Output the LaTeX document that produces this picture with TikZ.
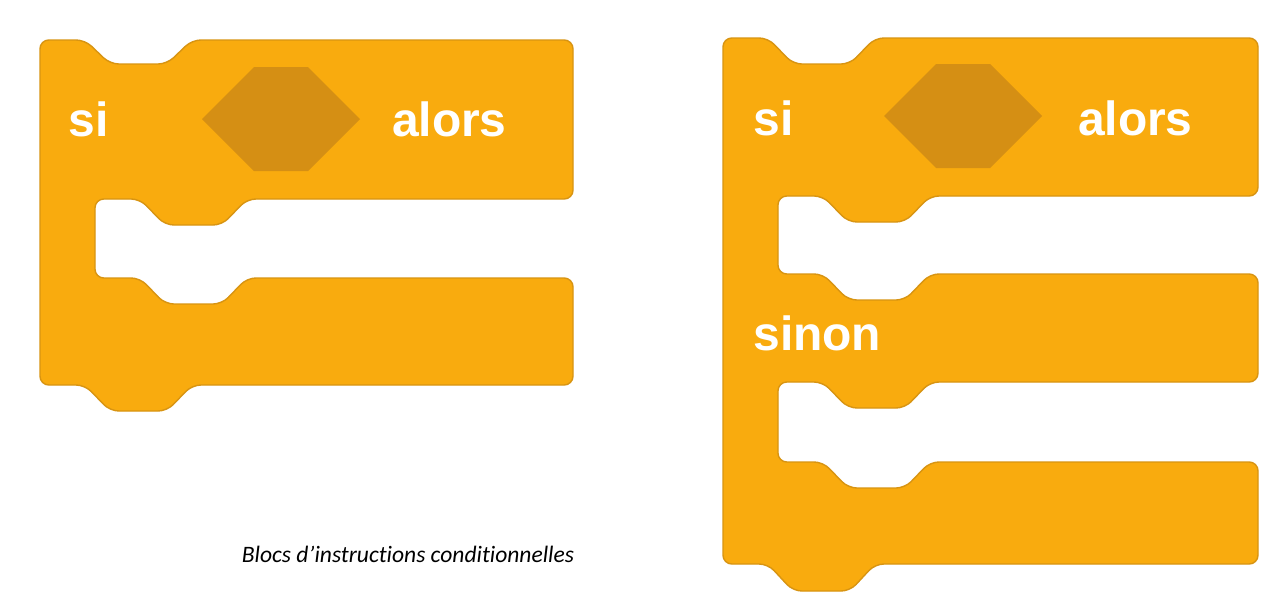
\documentclass[tikz,border=0pt]{standalone}
\usepackage{fontspec}
\setmainfont{Carlito}[Ligatures=NoCommon]
\newfontfamily\blocksans{Liberation Sans}
\definecolor{ctrl}{HTML}{F9AB0E}
\definecolor{ctrlline}{HTML}{D89412}
\definecolor{ctrlslot}{HTML}{D58F14}
\tikzset{
  block/.style={fill=ctrl, draw=ctrlline, line width=.8pt, rounded corners=5pt, line join=round},
  slot/.style={fill=ctrlslot},
  blocktext/.style={text=white, inner sep=0pt, font=\blocksans\bfseries\fontsize{27.3}{30}\selectfont},
  caption/.style={inner sep=0pt, font=\itshape\fontsize{13.4}{16}\selectfont}
}
\begin{document}
\begin{tikzpicture}[x=0.02cm, y=-0.02cm]
\fill[white] (0,0) rectangle (1279,599);
\useasboundingbox (0,0) rectangle (1279,599);
% si ... alors
\draw[block] (40,40) -- (85,40) -- (110,64) -- (167,64) -- (192,40) -- (573,40) -- (573,199)
  -- (247,199) -- (222,225) -- (165,225) -- (140,199) -- (95,199) -- (95,278)
  -- (140,278) -- (165,304) -- (222,304) -- (247,278) -- (573,278) -- (573,385)
  -- (192,385) -- (167,411) -- (110,411) -- (85,385) -- (40,385) -- cycle;
\fill[slot] (202,119) -- (254,67) -- (308,67) -- (360,119) -- (308,171) -- (254,171) -- cycle;
\node[blocktext, anchor=base west] (si) at (68,136) {si};
\node[blocktext, anchor=base east] (alors) at (507,136) {alors};
% si ... alors ... sinon
\draw[block] (723,38) -- (768,38) -- (793,64) -- (850,64) -- (875,38) -- (1258,38) -- (1258,196)
  -- (930,196) -- (905,222) -- (848,222) -- (823,196) -- (778,196) -- (778,274)
  -- (823,274) -- (848,300) -- (905,300) -- (930,274) -- (1258,274) -- (1258,382)
  -- (930,382) -- (905,408) -- (848,408) -- (823,382) -- (778,382) -- (778,462)
  -- (823,462) -- (848,488) -- (905,488) -- (930,462) -- (1258,462) -- (1258,564)
  -- (875,564) -- (850,591) -- (793,591) -- (768,564) -- (723,564) -- cycle;
\fill[slot] (884,116) -- (936,64) -- (990,64) -- (1042,116) -- (990,168) -- (936,168) -- cycle;
\node[blocktext, anchor=base west] (si2) at (753,135) {si};
\node[blocktext, anchor=base east] (alors2) at (1193,135) {alors};
\node[blocktext, anchor=base west] (sinon) at (753,350) {sinon};
% legende
\node[caption, anchor=base] (legende) at (408,562) {Blocs d’instructions conditionnelles};
\end{tikzpicture}
\end{document}
